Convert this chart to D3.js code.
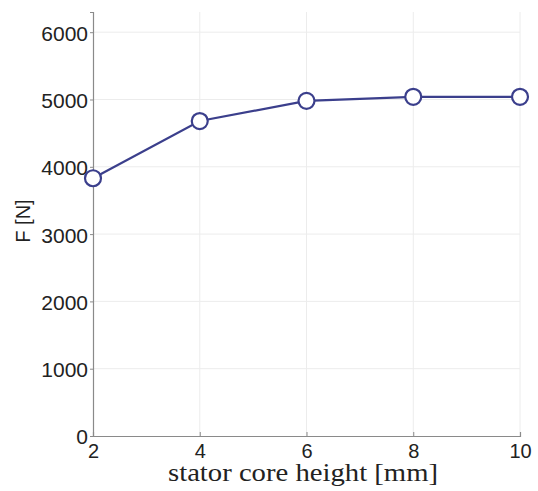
<!DOCTYPE html>
<html>
<head>
<meta charset="utf-8">
<script src="https://cdn.jsdelivr.net/npm/d3@7"></script>
<style>
  html, body { margin: 0; padding: 0; background: #fff; }
  svg { display: block; }
</style>
</head>
<body>
<svg id="chart" width="538" height="491"></svg>
<script>
// Force vs. stator core height
const heights = [2, 4, 6, 8, 10];
const force = [3830, 4680, 4980, 5040, 5040];
const xTicks = [2, 4, 6, 8, 10];
const yTicks = [0, 1000, 2000, 3000, 4000, 5000, 6000];

const svg = d3.select("#chart");
const plotLeft = 93, plotRight = 520, plotTop = 12, plotBottom = 436;

const x = d3.scaleLinear().domain([2, 10]).range([plotLeft, plotRight]);
const y = d3.scaleLinear().domain([0, 6300]).range([plotBottom, plotTop]);

// grid
svg.append("g").selectAll("line").data(xTicks.slice(1)).join("line")
  .attr("x1", d => x(d)).attr("x2", d => x(d))
  .attr("y1", plotBottom).attr("y2", plotTop)
  .attr("stroke", "#ececec").attr("stroke-width", 1);
svg.append("g").selectAll("line").data(yTicks.slice(1)).join("line")
  .attr("x1", plotLeft).attr("x2", plotRight)
  .attr("y1", d => y(d)).attr("y2", d => y(d))
  .attr("stroke", "#ececec").attr("stroke-width", 1);

// axes
const xAxis = svg.append("g")
  .attr("transform", `translate(0,${plotBottom})`)
  .call(d3.axisBottom(x).tickValues(xTicks).tickSize(-4).tickPadding(8).tickFormat(d3.format("d")));
const yAxis = svg.append("g")
  .attr("transform", `translate(${plotLeft},0)`)
  .call(d3.axisLeft(y).tickValues(yTicks).tickSize(3).tickPadding(2).tickFormat(d3.format("d")));

[xAxis, yAxis].forEach(g => {
  g.select(".domain").attr("stroke", "#8a8a8a").attr("stroke-width", 1.2);
  g.selectAll(".tick line").attr("stroke", "#8a8a8a");
  g.selectAll(".tick text")
    .attr("fill", "#222")
    .style("font-family", "'Liberation Sans', Arial, sans-serif");
});
yAxis.selectAll(".tick text").style("font-size", "21px").attr("dy", "0.38em");
xAxis.selectAll(".tick text").style("font-size", "20px").attr("dy", "0.71em");

// series line
const line = d3.line().x((d, i) => x(heights[i])).y(d => y(d));
svg.append("path")
  .datum(force)
  .attr("d", line)
  .attr("fill", "none")
  .attr("stroke", "#3b3f8c")
  .attr("stroke-width", 2.2);

svg.append("g").selectAll("circle").data(force).join("circle")
  .attr("cx", (d, i) => x(heights[i]))
  .attr("cy", d => y(d))
  .attr("r", 8)
  .attr("fill", "#fff")
  .attr("stroke", "#3b3f8c")
  .attr("stroke-width", 2.2);

// axis titles
svg.append("text")
  .attr("x", 168)
  .attr("y", 481)
  .attr("textLength", 270)
  .attr("lengthAdjust", "spacingAndGlyphs")
  .attr("fill", "#222")
  .style("font-family", "'Liberation Serif', 'Times New Roman', serif")
  .style("font-size", "25px")
  .text("stator core height [mm]");

svg.append("text")
  .attr("transform", "translate(30,221) rotate(-90)")
  .attr("text-anchor", "middle")
  .attr("fill", "#222")
  .style("font-family", "'Liberation Sans', Arial, sans-serif")
  .style("font-size", "20px")
  .text("F [N]");
</script>
</body>
</html>
